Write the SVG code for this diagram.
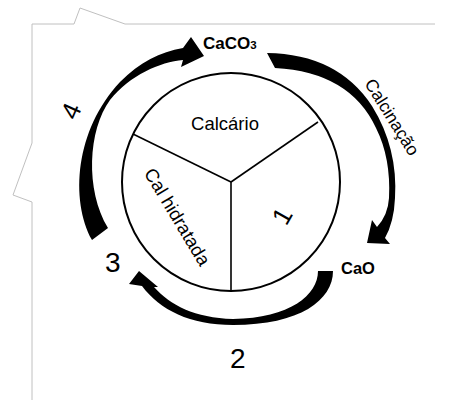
<svg xmlns="http://www.w3.org/2000/svg" width="465" height="400" viewBox="0 0 465 400">
<style>
.t{font-family:"Liberation Sans",Arial,sans-serif;fill:#000}
.b{font-weight:bold}
.arr{fill:#000;stroke:none}
.frame{fill:none;stroke:#c0c0c0;stroke-width:1}
</style>
<rect width="465" height="400" fill="#fff"/>
<polyline class="frame" points="435,24 125,24 80,8 74,24 32,24 32,143 13,195 32,202 32,400"/>
<g id="wheel">
<circle cx="231" cy="182" r="109" fill="#fff" stroke="#000" stroke-width="2"/>
<line x1="231" y1="182" x2="133" y2="134" stroke="#000" stroke-width="1.6"/>
<line x1="231" y1="182" x2="318" y2="122" stroke="#000" stroke-width="1.6"/>
<line x1="231" y1="182" x2="231" y2="291" stroke="#000" stroke-width="1.6"/>
</g>
<g id="calcario"><text class="t" x="225" y="130" font-size="18.5" text-anchor="middle">Calcário</text></g>
<g id="cal-hidratada"><text class="t" font-size="18.5" text-anchor="middle" transform="translate(177,217) rotate(59)" y="6">Cal hidratada</text></g>
<g id="label-1"><text class="t" font-size="26" text-anchor="middle" transform="translate(282,216) rotate(-60)" y="9">1</text></g>
<g id="caco3"><text class="t b" x="203" y="49" font-size="17">CaCO<tspan font-size="11.5">3</tspan></text></g>
<g id="cao"><text class="t b" x="341" y="274" font-size="16.5">CaO</text></g>
<g id="calcinacao"><text class="t" font-size="17.5" text-anchor="middle" transform="translate(392,117) rotate(58)" y="6">Calcinação</text></g>
<g id="label-2"><text class="t" x="230" y="368" font-size="28">2</text></g>
<g id="label-3"><text class="t" x="105" y="272" font-size="28">3</text></g>
<g id="label-4"><text class="t" font-size="26" text-anchor="middle" transform="translate(71,111) rotate(-66)" y="9">4</text></g>
<g id="connectors">
<path id="arrow-calcinacao" class="arr" d="M267,53 Q338,54 372,106 Q398,148 395,198 Q394,222 385,238 L390,244 L367,243 L372,220 L377,227 Q388,215 389,198 Q391,158 376,128 Q350,72 275,68 Z"/>
<path id="arrow-2" class="arr" d="M333,271 C333,300 300,325 233,325 C190,325 160,310 142,286 L129,284 L139,271 L158,287 L154,287 C170,305 195,318 233,319 C290,318 318,295 318,271 Z"/>
<path id="arrow-4" class="arr" d="M92,240 C70,200 75,130 120,82 C140,62 160,52 183,48 L191,37 L204,56 L181,67 L183,60 C160,62 130,75 110,100 C88,130 85,190 108,228 Z"/>
</g>
</svg>
